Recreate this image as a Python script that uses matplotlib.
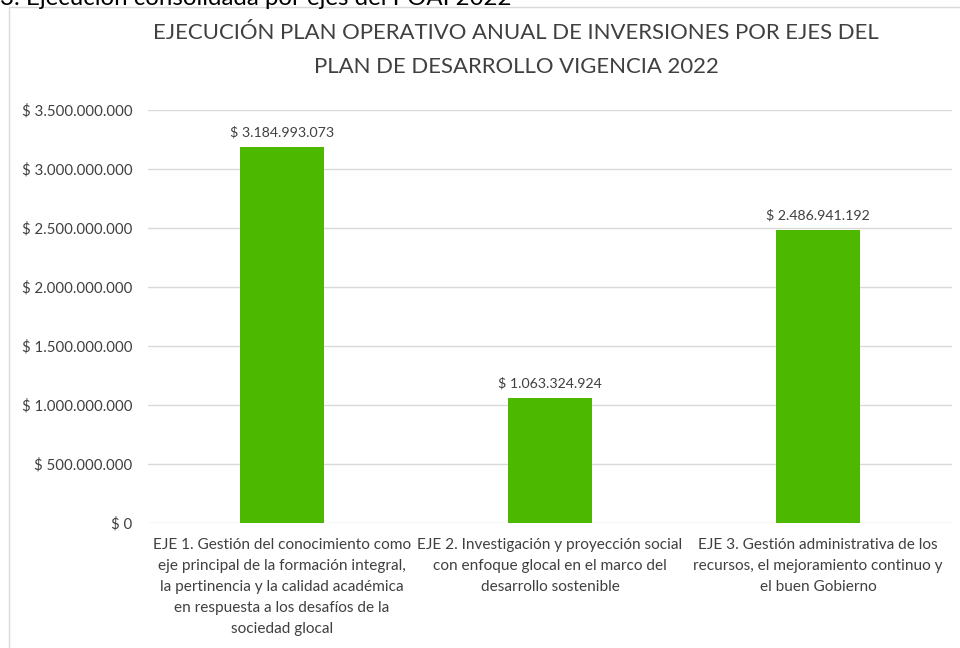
import matplotlib
matplotlib.use("Agg")
import matplotlib.pyplot as plt
from matplotlib.patches import Rectangle
from matplotlib.ticker import FuncFormatter, MultipleLocator

plt.rcParams['font.family'] = ['Lato', 'DejaVu Sans']

categories = [
    "EJE 1. Gestión del conocimiento como\neje principal de la formación integral,\nla pertinencia y la calidad académica\nen respuesta a los desafíos de la\nsociedad glocal",
    "EJE 2. Investigación y proyección social\ncon enfoque glocal en el marco del\ndesarrollo sostenible",
    "EJE 3. Gestión administrativa de los\nrecursos, el mejoramiento continuo y\nel buen Gobierno",
]
values = [3184993073, 1063324924, 2486941192]
title_lines = ["EJECUCIÓN PLAN OPERATIVO ANUAL DE INVERSIONES POR EJES DEL",
               "PLAN DE DESARROLLO VIGENCIA 2022"]
caption = "3. Ejecución consolidada por ejes del POAI 2022"

TEXT = '#404040'
GRID = '#d9d9d9'
GREEN = '#4db800'


def money(v, pos=None):
    return "$ " + f"{int(round(v)):,}".replace(",", ".")


W, H = 960, 648
fig = plt.figure(figsize=(9.6, 6.48), dpi=100)

# chart frame
fig.patches.append(Rectangle((9 / W, -0.05), 1.2, 1 - 7 / H + 0.05,
                             transform=fig.transFigure, fill=False,
                             edgecolor=GRID, linewidth=1.0))

# cut-off caption at the very top
fig.text(0.0, 1 - 5 / H, caption, ha='left', va='baseline',
         fontsize=17.3, color='black')

ax = fig.add_axes([148 / W, 1 - 523 / H, (952 - 148) / W, (523 - 110) / H])
x = list(range(len(values)))
ax.bar(x, values, width=0.313, color=GREEN, zorder=3)
ax.set_xlim(-0.5, len(values) - 0.5)
ax.set_ylim(0, 3.5e9)
ax.yaxis.set_major_locator(MultipleLocator(5e8))
ax.yaxis.set_major_formatter(FuncFormatter(money))
ax.grid(axis='y', color=GRID, linewidth=1.0, zorder=0)
for s in ax.spines.values():
    s.set_visible(False)
ax.tick_params(axis='y', length=0, pad=11, labelsize=10.8, labelcolor=TEXT)
ax.tick_params(axis='x', length=0, pad=11, labelsize=11.1, labelcolor=TEXT)
ax.set_xticks(x)
ax.set_xticklabels(categories, linespacing=1.64)

for xi, v in zip(x, values):
    ax.annotate(money(v), (xi, v), xytext=(0, 6), textcoords='offset points',
                ha='center', va='bottom', fontsize=10.2, color=TEXT)

for yy, line in zip([33, 67], title_lines):
    fig.text(516 / W, 1 - yy / H, line, ha='center', va='center',
             fontsize=15.9, color=TEXT)

fig.savefig("out.png", dpi=100, facecolor='white')
